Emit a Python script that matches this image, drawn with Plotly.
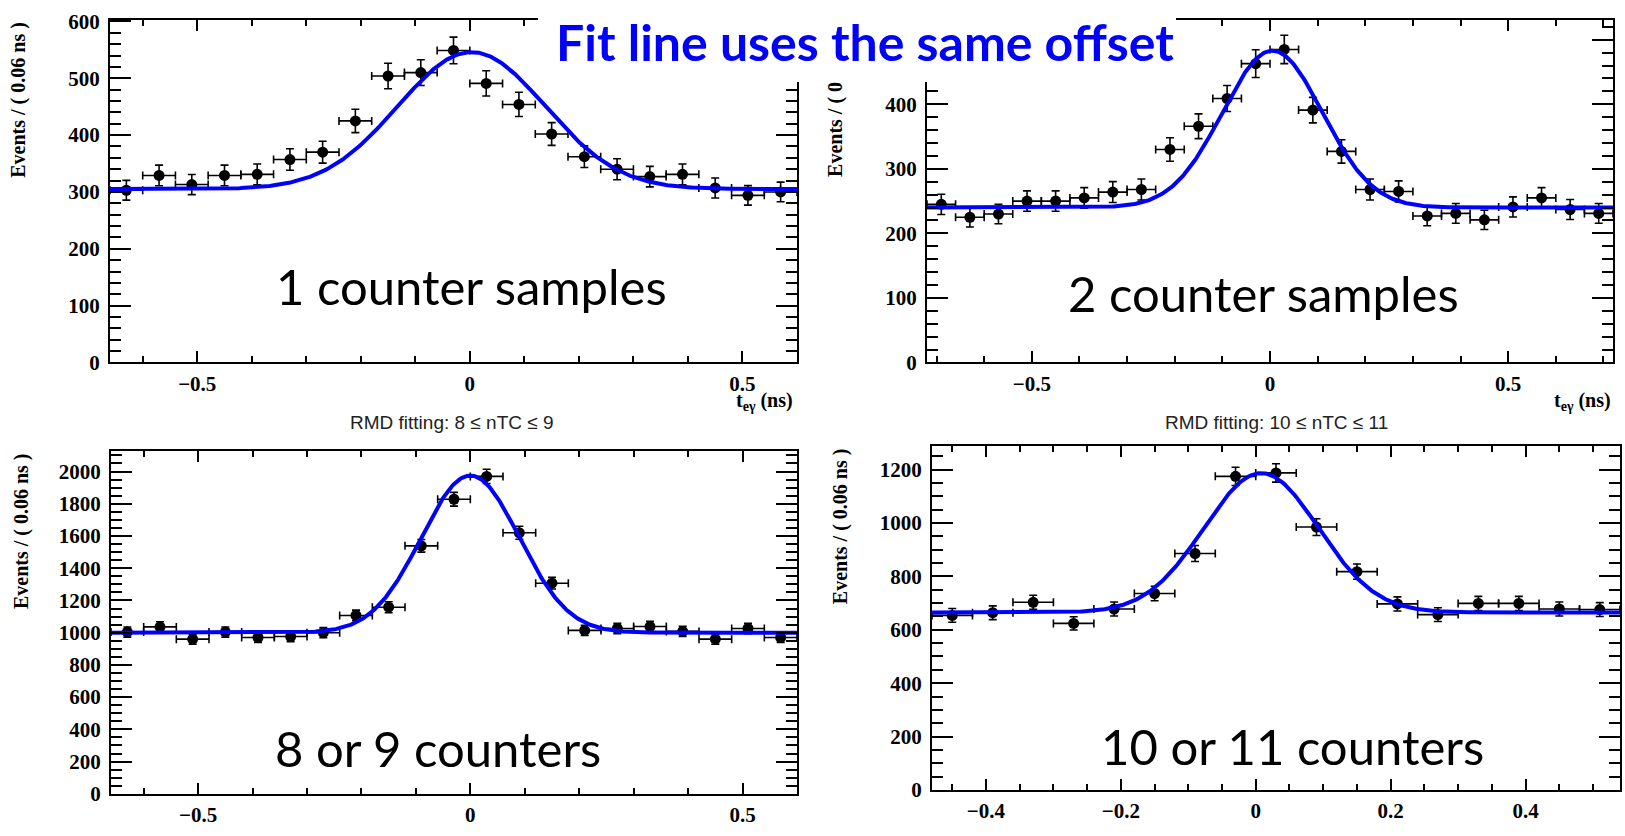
import numpy as np
import plotly.graph_objects as go

W, H = 1625, 836

# ---------------- data ----------------
tl_x = [-0.63, -0.57, -0.51, -0.45, -0.39, -0.33, -0.27, -0.21, -0.15, -0.09, -0.03,
        0.03, 0.09, 0.15, 0.21, 0.27, 0.33, 0.39, 0.45, 0.51, 0.57]
tl_y = [303, 329, 313, 329, 331, 357, 370, 425, 504, 510, 549,
        491, 454, 402, 362, 340, 327, 331, 307, 294, 300]

tr_x = [-0.69, -0.63, -0.57, -0.51, -0.45, -0.39, -0.33, -0.27, -0.21, -0.15, -0.09, -0.03,
        0.03, 0.09, 0.15, 0.21, 0.27, 0.33, 0.39, 0.45, 0.51, 0.57, 0.63, 0.69]
tr_y = [245, 225, 230, 250, 250, 255, 264, 268, 330, 366, 409, 463,
        485, 391, 327, 268, 265, 227, 231, 221, 241, 255, 237, 231]

bl_x = [-0.63, -0.57, -0.51, -0.45, -0.39, -0.33, -0.27, -0.21, -0.15, -0.09, -0.03,
        0.03, 0.09, 0.15, 0.21, 0.27, 0.33, 0.39, 0.45, 0.51, 0.57]
bl_y = [1004, 1036, 960, 1004, 970, 976, 1000, 1107, 1158, 1539, 1828,
        1970, 1620, 1307, 1014, 1026, 1038, 1008, 960, 1026, 970]

br_x = [-0.45, -0.39, -0.33, -0.27, -0.21, -0.15, -0.09, -0.03,
        0.03, 0.09, 0.15, 0.21, 0.27, 0.33, 0.39, 0.45, 0.51]
br_y = [654, 664, 703, 624, 678, 736, 886, 1175,
        1188, 985, 818, 697, 657, 699, 699, 678, 676]

# fit parameters: offset, amplitude, mean, sigma (Gaussian + constant)
tl_fit = [305, 241, 0.003, 0.135]
tr_fit = [240, 243, 0.005, 0.105]
bl_fit = [1000, 975, 0.0, 0.090]
br_fit = [665, 522, 0.008, 0.085]

bin_half_width = 0.03

labels = ["1 counter samples", "2 counter samples", "8 or 9 counters", "10 or 11 counters"]
bottom_titles = ["RMD fitting: 8 \u2264 nTC \u2264 9", "RMD fitting: 10 \u2264 nTC \u2264 11"]
ytitle = "Events / ( 0.06 ns )"
xtitle = "t<sub>e\u03b3</sub> (ns)"
headline = "Fit line uses the same offset"

# ---------------- layout helpers ----------------
def px_x(p):
    return p / W

def px_y(p):
    return 1 - p / H

panels = [
    dict(x=tl_x, y=tl_y, fit=tl_fit, xr=[-0.66, 0.60], yr=[0, 603],
         xpx=(110, 797), ypx=(10, 362), xd=0.5, xm=0.1, yd=100, ym=20),
    dict(x=tr_x, y=tr_y, fit=tr_fit, xr=[-0.72, 0.72], yr=[0, 531],
         xpx=(927, 1613), ypx=(10, 362), xd=0.5, xm=0.1, yd=100, ym=20),
    dict(x=bl_x, y=bl_y, fit=bl_fit, xr=[-0.66, 0.60], yr=[0, 2127],
         xpx=(111, 797), ypx=(453, 805), xd=0.5, xm=0.1, yd=200, ym=50),
    dict(x=br_x, y=br_y, fit=br_fit, xr=[-0.48, 0.54], yr=[0, 1288],
         xpx=(932, 1620), ypx=(448, 801), xd=0.2, xm=0.05, yd=200, ym=50),
]

tickfont = dict(family="Liberation Serif", size=21, color="black", weight="bold")

fig = go.Figure()
layout = dict(
    width=W, height=H, autosize=False,
    margin=dict(l=0, r=0, t=0, b=0),
    paper_bgcolor="white", plot_bgcolor="white",
    showlegend=False,
)

for i, p in enumerate(panels, start=1):
    sfx = "" if i == 1 else str(i)
    xa, ya = "x" + sfx, "y" + sfx
    fig.add_trace(go.Scatter(
        x=p["x"], y=p["y"], mode="markers",
        marker=dict(size=11, color="black"),
        error_y=dict(type="sqrt", color="black", thickness=1.6, width=4),
        error_x=dict(type="constant", value=bin_half_width, color="black", thickness=1.6, width=4),
        xaxis=xa, yaxis=ya, hoverinfo="skip",
    ))
    off, amp, mu, sg = p["fit"]
    xc = np.linspace(p["xr"][0], p["xr"][1], 500)
    yc = off + amp * np.exp(-0.5 * ((xc - mu) / sg) ** 2)
    fig.add_trace(go.Scatter(
        x=xc, y=yc, mode="lines", line=dict(color="#0000FF", width=4),
        xaxis=xa, yaxis=ya, hoverinfo="skip",
    ))
    layout["xaxis" + sfx] = dict(
        domain=[px_x(p["xpx"][0]), px_x(p["xpx"][1])], range=p["xr"], anchor=ya,
        showgrid=False, zeroline=False, showline=True, linecolor="black", linewidth=2,
        mirror="allticks", ticks="inside", ticklen=11, tickwidth=2, tickcolor="black",
        dtick=p["xd"], tick0=0, tickfont=tickfont, ticklabelstandoff=1,
        minor=dict(dtick=p["xm"], tick0=0, ticks="inside", ticklen=6, tickwidth=2,
                   tickcolor="black", showgrid=False),
    )
    layout["yaxis" + sfx] = dict(
        domain=[px_y(p["ypx"][1]), px_y(p["ypx"][0])], range=p["yr"], anchor=xa,
        showgrid=False, zeroline=False, showline=True, linecolor="black", linewidth=2,
        mirror="allticks", ticks="inside", ticklen=21, tickwidth=2, tickcolor="black",
        dtick=p["yd"], tick0=0, tickfont=tickfont, ticklabelstandoff=4,
        minor=dict(dtick=p["ym"], tick0=0, ticks="inside", ticklen=11, tickwidth=2,
                   tickcolor="black", showgrid=False),
    )

fig.update_layout(**layout)

# white box behind the slide headline
fig.add_shape(type="rect", xref="paper", yref="paper",
              x0=px_x(538), x1=px_x(1176), y0=px_y(74), y1=px_y(0),
              fillcolor="white", line=dict(width=0), layer="above")

ann = []
# headline
ann.append(dict(text=headline, x=px_x(865), y=px_y(33), xref="paper", yref="paper",
                xanchor="center", yanchor="middle", showarrow=False,
                font=dict(family="Lato", size=50, color="#0000FF", weight="bold")))
# big labels
big_pos = [(472, 283), (1263, 291), (438, 758), (1292, 756)]
for t, (bx, by) in zip(labels, big_pos):
    ann.append(dict(text=t, x=px_x(bx), y=px_y(by), xref="paper", yref="paper",
                    xanchor="center", yanchor="middle", showarrow=False,
                    font=dict(family="Lato", size=49, color="black")))
# bottom titles
for t, (bx, by) in zip(bottom_titles, [(452, 424), (1276, 424)]):
    ann.append(dict(text=t, x=px_x(bx), y=px_y(by), xref="paper", yref="paper",
                    xanchor="center", yanchor="middle", showarrow=False,
                    font=dict(family="Liberation Sans", size=19, color="#222222")))
# y titles
ytfont = dict(family="Liberation Serif", size=20, color="black", weight="bold")
ann.append(dict(text=ytitle, x=px_x(19), y=px_y(10), xref="paper", yref="paper",
                xanchor="center", yanchor="top", textangle=-90, showarrow=False, font=ytfont))
ann.append(dict(text="Events / ( 0", x=px_x(836), y=px_y(173), xref="paper", yref="paper",
                xanchor="center", yanchor="bottom", textangle=-90, showarrow=False, font=ytfont))
ann.append(dict(text=ytitle, x=px_x(21), y=px_y(453), xref="paper", yref="paper",
                xanchor="center", yanchor="top", textangle=-90, showarrow=False, font=ytfont))
ann.append(dict(text=ytitle, x=px_x(840), y=px_y(448), xref="paper", yref="paper",
                xanchor="center", yanchor="top", textangle=-90, showarrow=False, font=ytfont))
# x titles (top panels)
for rx in (795, 1613):
    ann.append(dict(text=xtitle, x=px_x(rx), y=px_y(402), xref="paper", yref="paper",
                    xanchor="right", yanchor="middle", showarrow=False, font=ytfont))

fig.update_layout(annotations=ann)
fig.write_html("out.html")
